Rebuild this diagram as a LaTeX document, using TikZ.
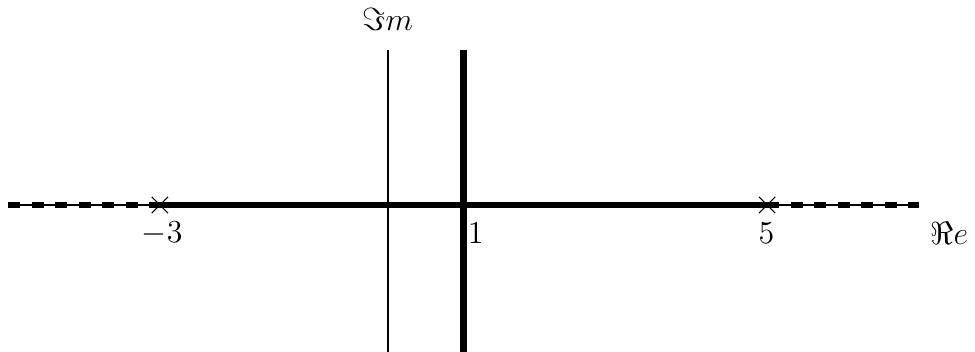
\documentclass[tikz,border=0pt]{standalone}
\usepackage{amsmath}
\usepackage{amssymb}
\usetikzlibrary{shapes,positioning,calc}

\begin{document}
\begin{tikzpicture}[
    axis/.style={line width=0.7pt},
    locus/.style={line width=2.5pt},
    asym/.style={line width=2.5pt, dash pattern=on 4.6pt off 4.2pt},
    pole/.style={cross out, draw, thin, minimum size=0.2cm, inner sep=0pt},
    lbl/.style={font=\large}]

\useasboundingbox (-5.108,-1.924) rectangle (7.738,2.701);

% axes
\coordinate (west) at (-5,0);
\coordinate (east) at (7,0);
\coordinate (south) at (0,-1.95);
\coordinate (north) at (0,2.04);
\draw[axis] (west) -- (east);
\draw[axis] (south) -- (north);
\node[lbl] (re_lbl) at (7.4,-0.37) {$\Re e$};
\node[lbl] (im_lbl) at (0,2.44) {$\Im m$};

% poles
\node[pole] (p1) at (-3,0) {};
\node[pole] (p2) at (5,0) {};
\node[lbl] (p1_lbl) at (-2.97,-0.37) {$-3$};
\node[lbl] (p2_lbl) at (4.99,-0.37) {$5$};

% root locus
\draw[locus] (p1.center) -- (p2.center);
\draw[asym] (west) -- (p1.center);
\draw[asym] (p2.center) -- (east);

% vertical line Re = 1
\coordinate (v_top) at (1,2.04);
\coordinate (v_bot) at (1,-1.95);
\draw[locus] (v_bot) -- (v_top);
\node[lbl] (one_lbl) at (1.16,-0.37) {$1$};

\end{tikzpicture}
\end{document}
